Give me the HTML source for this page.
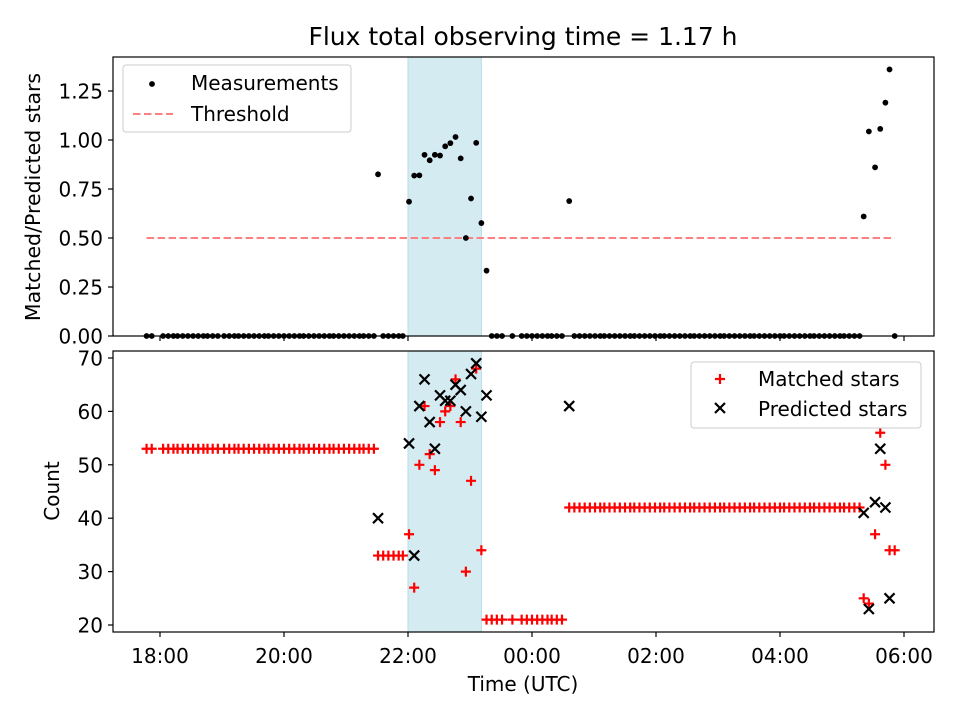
<!DOCTYPE html>
<html><head><meta charset="utf-8">
<style>
body{margin:0;background:#fff;}
svg{font-family:"DejaVu Sans","Liberation Sans",sans-serif;}
</style></head>
<body>
<svg id="chart" width="960" height="720" xmlns="http://www.w3.org/2000/svg"></svg>
<script>
// times in minutes after 18:00 UTC
const times = [-13,-8,3,8,13,17,22,27,32,37,42,46,51,56,62,67,72,76,81,86,91,96,101,105,110,115,120,125,130,135,139,144,149,154,159,164,168,173,178,183,188,193,197,202,207,
211,216,221,226,231,235,
241,246,251,256,261,266,271,276,281,286,291,296,301,306,311,316,
321,326,331,341,350,355,360,365,370,375,379,384,389,396,
401,406,411,416,421,426,430,435,440,445,450,455,459,464,469,474,479,484,488,493,498,503,508,513,517,522,527,532,537,542,546,551,556,561,566,571,575,580,585,590,595,600,604,609,614,619,624,629,633,638,643,648,653,658,662,667,672,677,
681,686,692,697,702,706,711];
const matched = [53,53,53,53,53,53,53,53,53,53,53,53,53,53,53,53,53,53,53,53,53,53,53,53,53,53,53,53,53,53,53,53,53,53,53,53,53,53,53,53,53,53,53,53,53,
33,33,33,33,33,33,
37,27,50,61,52,49,58,60,61,66,58,30,47,68,34,21,
21,21,21,21,21,21,21,21,21,21,21,21,21,42,
42,42,42,42,42,42,42,42,42,42,42,42,42,42,42,42,42,42,42,42,42,42,42,42,42,42,42,42,42,42,42,42,42,42,42,42,42,42,42,42,42,42,42,42,42,42,42,42,42,42,42,42,42,42,42,42,42,42,
25,24,37,56,50,34,34];
const predicted = [0,0,0,0,0,0,0,0,0,0,0,0,0,0,0,0,0,0,0,0,0,0,0,0,0,0,0,0,0,0,0,0,0,0,0,0,0,0,0,0,0,0,0,0,0,
40,0,0,0,0,0,
54,33,61,66,58,53,63,62,62,65,64,60,67,69,59,63,
0,0,0,0,0,0,0,0,0,0,0,0,0,61,
0,0,0,0,0,0,0,0,0,0,0,0,0,0,0,0,0,0,0,0,0,0,0,0,0,0,0,0,0,0,0,0,0,0,0,0,0,0,0,0,0,0,0,0,0,0,0,0,0,0,0,0,0,0,0,0,0,0,
41,23,43,53,42,25,0];
const xTickLabels = ["18:00","20:00","22:00","00:00","02:00","04:00","06:00"];
const xTickValues = [0,120,240,360,480,600,720];
const topTicks = [0,0.25,0.5,0.75,1.0,1.25];
const botTicks = [20,30,40,50,60,70];
const threshold = [0.5];
const thresholdSpan = [-13,711];
const shadeSpan = [240,311];

const NS="http://www.w3.org/2000/svg";
const svg=document.getElementById('chart');
function el(tag,attrs,parent){const e=document.createElementNS(NS,tag);for(const k in attrs)e.setAttribute(k,attrs[k]);(parent||svg).appendChild(e);return e;}
const L=113,R=934;
const T1=57,B1=336,T2=351,B2=632;
const FS=20;
const X=m=>160+(m)*(744/720);
const Y1=v=>336-v*196;
const Y2=v=>625-(v-20)*(267/50);

for(const [t,b,nm] of [[T1,B1,'shade-top'],[T2,B2,'shade-bottom']]){
  const r=el('rect',{x:X(shadeSpan[0]),y:t,width:X(shadeSpan[1])-X(shadeSpan[0]),height:b-t,fill:'#d5ebf2',stroke:'#b9dce7','stroke-width':1});
  
  
}
const th=el('line',{x1:X(thresholdSpan[0]),x2:X(thresholdSpan[1]),y1:Y1(threshold[0]),y2:Y1(threshold[0]),stroke:'#ff8080','stroke-width':2,'stroke-dasharray':'7.5,3.5'});



const gTop=el('g',{});


times.forEach((t,i)=>{
  const v=predicted[i]>0?matched[i]/predicted[i]:0;
  const c=el('circle',{cx:X(t),cy:Y1(v),r:2.9,fill:'#000'},gTop);
  
  
});
const cp=el('clipPath',{id:'cb'});
el('rect',{x:L,y:T2,width:R-L,height:B2-T2},cp);
const gM=el('g',{'clip-path':'url(#cb)'});


times.forEach((t,i)=>{
  const x=X(t),y=Y2(matched[i]);
  const p=el('path',{d:`M${x-5},${y}H${x+5}M${x},${y-5}V${y+5}`,stroke:'#f00','stroke-width':2.2},gM);
  
  
});
const gP=el('g',{'clip-path':'url(#cb)'});


times.forEach((t,i)=>{
  const x=X(t),y=Y2(predicted[i]);
  const p=el('path',{d:`M${x-5},${y-5}L${x+5},${y+5}M${x-5},${y+5}L${x+5},${y-5}`,stroke:'#000','stroke-width':2.2},gP);
  
  
});

for(const [t,b,nm] of [[T1,B1,'top-axes-frame'],[T2,B2,'bottom-axes-frame']]){
  const r=el('rect',{x:L,y:t,width:R-L,height:b-t,fill:'none',stroke:'#000','stroke-width':1.2});
  
  
}
xTickValues.forEach((v,i)=>{
  const x=X(v);
  el('line',{x1:x,x2:x,y1:B1,y2:B1+5,stroke:'#000','stroke-width':1.2});
  el('line',{x1:x,x2:x,y1:B2,y2:B2+5,stroke:'#000','stroke-width':1.2});
  const tx=el('text',{x:x,y:B2+31,'font-size':FS,'text-anchor':'middle'});
  tx.textContent=xTickLabels[i];
  
  
});
topTicks.forEach(v=>{
  const y=Y1(v);
  el('line',{x1:L-5,x2:L,y1:y,y2:y,stroke:'#000','stroke-width':1.2});
  const tx=el('text',{x:L-10,y:y+7.5,'font-size':FS,'text-anchor':'end'});
  tx.textContent=v.toFixed(2);
  
  
});
botTicks.forEach(v=>{
  const y=Y2(v);
  el('line',{x1:L-5,x2:L,y1:y,y2:y,stroke:'#000','stroke-width':1.2});
  const tx=el('text',{x:L-10,y:y+7.5,'font-size':FS,'text-anchor':'end'});
  tx.textContent=v;
  
  
});
</script>
<svg style="position:absolute;left:0;top:0" width="960" height="720" xmlns="http://www.w3.org/2000/svg" font-family="DejaVu Sans, Liberation Sans, sans-serif">
  <text x="523" y="45" font-size="25" text-anchor="middle">Flux total observing time = 1.17 h</text>
  <text transform="translate(40,197) rotate(-90)" font-size="20.5" text-anchor="middle">Matched/Predicted stars</text>
  <text transform="translate(59,491) rotate(-90)" font-size="20" text-anchor="middle">Count</text>
  <text x="523" y="691" font-size="20" text-anchor="middle">Time (UTC)</text>
  <g>
    <rect x="123" y="65" width="228" height="67" rx="3" fill="#fff" fill-opacity="0.8" stroke="#ccc"/>
    <circle cx="152" cy="84" r="2.9" fill="#000"/>
    <text x="191" y="90" font-size="20">Measurements</text>
    <line x1="133" x2="173" y1="114" y2="114" stroke="#ff8080" stroke-width="2" stroke-dasharray="7.5,3.5"/>
    <text x="191" y="121" font-size="20">Threshold</text>
  </g>
  <g>
    <rect x="691" y="362" width="230" height="66" rx="3" fill="#fff" fill-opacity="0.8" stroke="#ccc"/>
    <path d="M715,379H725M720,374V384" stroke="#f00" stroke-width="2.2"/>
    <text x="758" y="386" font-size="20">Matched stars</text>
    <path d="M715,403L725,413M715,413L725,403" stroke="#000" stroke-width="2.2"/>
    <text x="758" y="416" font-size="20">Predicted stars</text>
  </g>
</svg>
</body></html>
